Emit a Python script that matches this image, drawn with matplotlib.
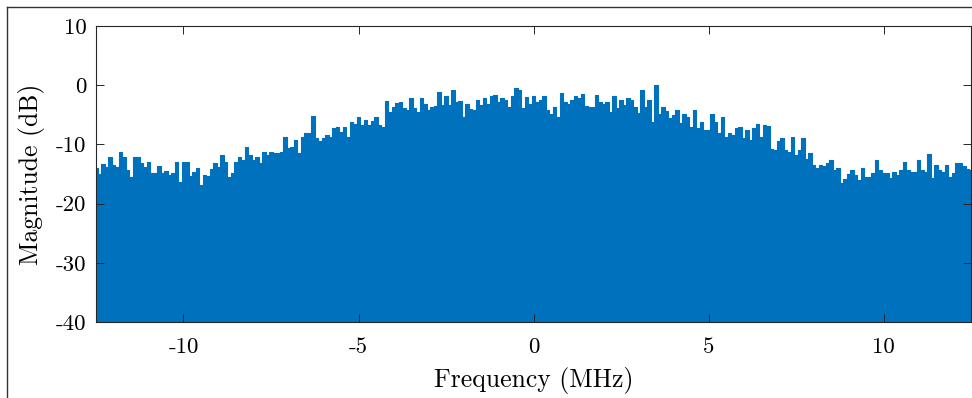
import numpy as np
import matplotlib
matplotlib.use('Agg')
import matplotlib.pyplot as plt
from matplotlib.lines import Line2D

# upper edge of the spectrum, every 0.1 MHz from -12.5 to 12.5
mag_db = [
  # -12.5 .. -9.4
  -14.0, -15.0, -13.3, -13.8, -12.1, -13.5, -13.8, -11.3, -12.1, -14.3, -15.5, -12.1, -12.1, -13.2, -13.8, -12.9,
  -14.9, -14.9, -13.6, -14.9, -14.5, -15.2, -14.9, -12.9, -16.3, -13.0, -12.9, -15.4, -14.7, -14.0, -16.9, -15.2,
  # -9.3 .. -6.3
  -15.4, -14.1, -13.2, -13.8, -11.8, -12.9, -15.5, -14.8, -12.9, -12.2, -12.6, -10.4, -11.8, -12.6, -12.1, -13.2,
  -11.3, -11.8, -11.2, -11.4, -11.5, -11.2, -8.7, -10.6, -10.4, -9.2, -11.5, -8.7, -8.1, -8.1, -5.2,
  # -6.2 .. -3.1
  -9.0, -9.5, -9.0, -8.4, -8.7, -7.3, -7.0, -7.9, -7.0, -8.7, -6.2, -6.5, -5.4, -6.7, -5.8, -6.7,
  -6.0, -5.3, -6.7, -7.0, -2.6, -4.5, -3.6, -3.0, -2.8, -3.9, -4.2, -2.2, -3.9, -4.5, -2.2, -3.1,
  # -3.0 .. 0.0
  -4.2, -3.7, -3.5, -1.1, -3.3, -1.9, -3.3, -0.8, -2.8, -2.6, -5.3, -3.1, -4.1, -4.2, -2.5, -3.3,
  -2.2, -3.1, -1.9, -1.7, -2.8, -2.2, -2.5, -3.6, -1.9, -0.4, -0.8, -3.9, -2.0, -3.1, -1.9,
  # 0.1 .. 3.1
  -2.8, -2.5, -1.9, -4.2, -4.8, -3.7, -5.3, -1.4, -2.8, -3.1, -2.5, -1.9, -2.2, -1.5, -3.5, -3.7,
  -3.6, -1.7, -2.8, -3.1, -2.8, -4.5, -1.8, -3.9, -2.5, -3.3, -2.2, -2.5, -3.7, -4.7, -0.8,
  # 3.2 .. 6.3
  -3.7, -2.5, -6.3, 0.0, -4.8, -3.6, -4.3, -5.6, -5.0, -4.2, -6.4, -4.9, -5.3, -7.0, -4.2, -7.3,
  -6.3, -7.6, -7.5, -4.8, -6.3, -8.0, -5.4, -8.7, -8.0, -8.4, -7.3, -7.0, -9.0, -7.5, -9.3, -7.3,
  # 6.4 .. 9.4
  -6.5, -8.7, -6.7, -6.9, -10.7, -10.9, -9.5, -9.0, -10.9, -11.2, -8.7, -11.8, -10.9, -9.0, -12.4, -11.5,
  -13.5, -14.0, -13.5, -13.7, -13.2, -12.6, -14.4, -14.0, -16.5, -15.8, -15.0, -14.4, -15.2, -16.0, -14.0,
  # 9.5 .. 12.5
  -15.5, -15.5, -14.8, -12.7, -14.3, -14.9, -14.8, -15.7, -14.6, -15.2, -14.3, -12.9, -14.3, -14.6, -14.6, -12.6,
  -14.3, -14.6, -11.7, -15.7, -13.5, -14.3, -14.6, -13.4, -15.5, -14.9, -13.2, -13.1, -13.7, -14.2, -14.3,
]
freq_mhz = np.linspace(-12.5, 12.5, len(mag_db))
floor_db = -40

xticks = [-10, -5, 0, 5, 10]
xtick_labels = ['-10', '-5', '0', '5', '10']
yticks = [-40, -30, -20, -10, 0, 10]
ytick_labels = ['-40', '-30', '-20', '-10', '0', '10']

plt.rcParams['font.family'] = ['cmr10', 'DejaVu Serif']
plt.rcParams['font.size'] = 16.5

fig = plt.figure(figsize=(9.72, 3.98), dpi=100)
ax = fig.add_axes([96/972, 1-322/398, 875/972, 296/398])

blue = '#0072BD'
ax.fill_between(freq_mhz, floor_db, mag_db, step='mid', color=blue, linewidth=0)
ax.step(freq_mhz, mag_db, where='mid', color=blue, linewidth=0.8)

ax.set_xlim(-12.5, 12.5)
ax.set_ylim(-40, 10)
ax.set_xticks(xticks, xtick_labels)
ax.set_yticks(yticks, ytick_labels)
ax.tick_params(direction='in', top=True, right=True, length=5.5, width=0.7, color='#262626')
ax.tick_params(axis='x', pad=11)
ax.tick_params(axis='y', pad=7)
for s in ax.spines.values():
  s.set_color('#262626')
  s.set_linewidth(0.8)
ax.set_xlabel('Frequency (MHz)', fontsize=18.5, labelpad=7)
ax.set_ylabel('Magnitude (dB)', fontsize=18.5, labelpad=8)

# frame around the figure (only left and top are visible in the crop)
fig.add_artist(Line2D([7/972, 7/972], [0, 1-6.5/398], color='#333333', linewidth=1.0))
fig.add_artist(Line2D([7/972, 1], [1-6.5/398, 1-6.5/398], color='#333333', linewidth=1.0))

fig.savefig('out.png', dpi=100)
